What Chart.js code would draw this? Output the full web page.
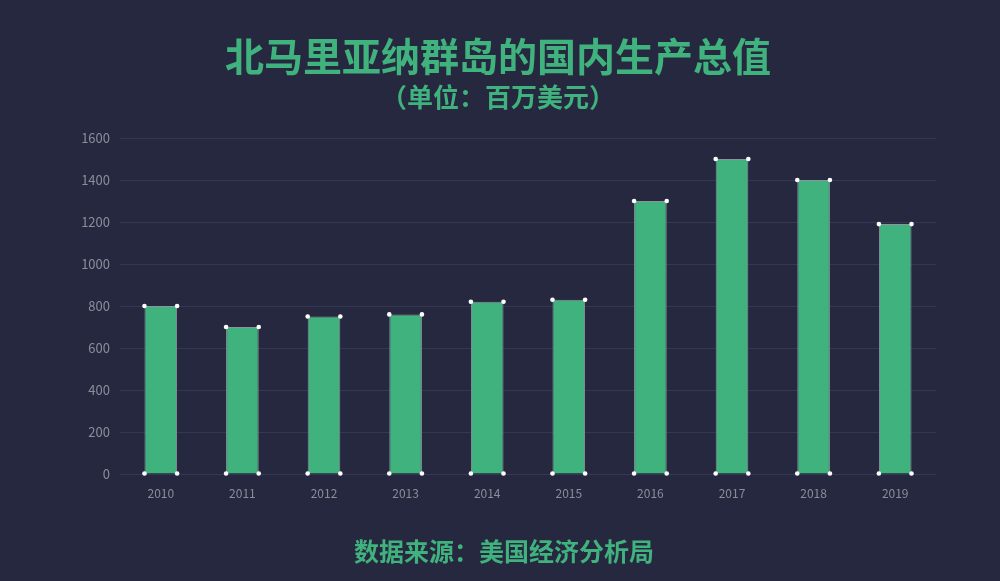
<!DOCTYPE html>
<html>
<head>
<meta charset="utf-8">
<script src="https://cdn.jsdelivr.net/npm/chart.js@4/dist/chart.umd.min.js"></script>
<style>
  html, body { margin: 0; padding: 0; background: #262840; }
  #wrap { width: 1000px; height: 581px; }
</style>
</head>
<body>
<div id="wrap"><canvas id="gdpChart"></canvas></div>
<script>
// --- 北马里亚纳群岛 GDP 柱状图 ---

const years = ['2010', '2011', '2012', '2013', '2014', '2015', '2016', '2017', '2018', '2019'];
const gdpValues = [800, 700, 750, 760, 820, 830, 1300, 1500, 1400, 1190]; // 百万美元
const yTicks = [0, 200, 400, 600, 800, 1000, 1200, 1400, 1600];

const titleText = '北马里亚纳群岛的国内生产总值';
const subtitleText = '（单位：百万美元）';
const sourceText = '数据来源：美国经济分析局';

const green = '#40b27d';
const fontFamily = '"Noto Sans CJK SC", "Noto Sans", sans-serif';

// 柱子四角的小白点 + 底部数据来源
const cornerDots = {
    id: 'cornerDots',
    afterDatasetsDraw(chart) {
        const ctx = chart.ctx;
        const meta = chart.getDatasetMeta(0);
        ctx.save();
        ctx.fillStyle = '#ffffff';
        meta.data.forEach(bar => {
            const half = bar.width / 2;
            const pts = [
                [bar.x - half, bar.y], [bar.x + half, bar.y],
                [bar.x - half, bar.base], [bar.x + half, bar.base]
            ];
            pts.forEach(p => {
                ctx.beginPath();
                ctx.arc(p[0], p[1], 2.3, 0, Math.PI * 2);
                ctx.fill();
            });
        });
        ctx.restore();
    },
    afterDraw(chart) {
        const ctx = chart.ctx;
        ctx.save();
        ctx.fillStyle = green;
        ctx.font = 'bold 25px ' + fontFamily;
        ctx.textAlign = 'center';
        ctx.textBaseline = 'middle';
        ctx.fillText(sourceText, chart.width / 2 + 4, 551);
        ctx.restore();
    }
};

const ctx = document.getElementById('gdpChart').getContext('2d');
new Chart(ctx, {
    type: 'bar',
    data: {
        labels: years,
        datasets: [{
            data: gdpValues,
            backgroundColor: green,
            borderColor: '#8e93a0',
            borderWidth: 1,
            categoryPercentage: 0.8,
            barPercentage: 0.5
        }]
    },
    options: {
        responsive: true,
        maintainAspectRatio: false,
        animation: false,
        layout: { padding: { left: 60, right: 64, bottom: 67, top: 0 } },
        plugins: {
            legend: { display: false },
            tooltip: { enabled: false },
            title: {
                display: true,
                text: titleText,
                color: green,
                font: { family: fontFamily, size: 39, weight: 'bold' },
                padding: { top: 33, bottom: 2 }
            },
            subtitle: {
                display: true,
                text: subtitleText,
                color: green,
                font: { family: fontFamily, size: 26, weight: 'bold' },
                padding: { top: 0, bottom: 25 }
            }
        },
        scales: {
            x: {
                grid: { display: false },
                border: { display: false },
                ticks: {
                    color: '#8c8d99',
                    font: { family: fontFamily, size: 12 },
                    padding: 4
                },
                afterFit(scale) { scale.height = 40; }
            },
            y: {
                min: 0,
                max: 1600,
                afterBuildTicks(scale) {
                    scale.ticks = yTicks.map(v => ({ value: v }));
                },
                grid: { color: '#343755', drawTicks: false, lineWidth: 1 },
                border: { display: false },
                ticks: {
                    color: '#8c8d99',
                    font: { family: fontFamily, size: 13 },
                    padding: 10,
                    callback: value => String(value) // 千位分隔符去掉
                },
                afterFit(scale) { scale.width = 60; }
            }
        }
    },
    plugins: [cornerDots]
});
</script>
</body>
</html>
